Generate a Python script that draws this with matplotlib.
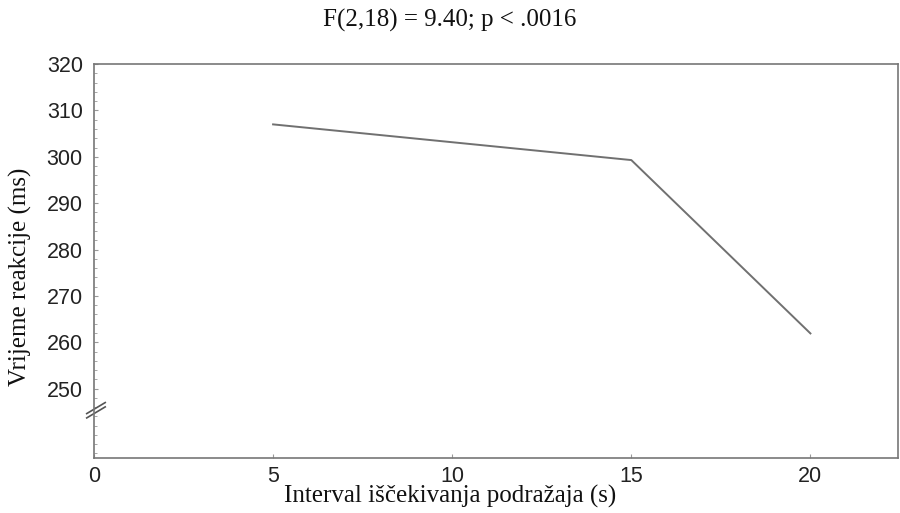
import matplotlib
matplotlib.use('Agg')
import matplotlib.pyplot as plt
from matplotlib.ticker import MultipleLocator

# values
interval = [5, 15, 20]
reaction_time = [307.0, 299.3, 261.9]
x_ticks = [0, 5, 10, 15, 20]
y_ticks = [250, 260, 270, 280, 290, 300, 310, 320]

fig = plt.figure(figsize=(9, 5.13), dpi=100)
ax = fig.add_axes([0.1044, 0.107, 0.8936, 0.768])

ax.plot(interval, reaction_time, color='#707070', linewidth=1.4)

ax.set_xlim(0, 22.45)
ax.set_ylim(235, 320)
ax.set_xticks(x_ticks)
ax.set_yticks(y_ticks)
ax.yaxis.set_minor_locator(MultipleLocator(2))
ax.tick_params(which='both', direction='in', color='#999999', labelsize=15.5)
ax.tick_params(axis='y', pad=8)
ax.tick_params(axis='x', pad=6)
ax.tick_params(which='major', length=3)
ax.tick_params(which='minor', length=2)
for lab in ax.get_xticklabels() + ax.get_yticklabels():
    lab.set_fontfamily('Liberation Sans')
    lab.set_color('#222222')
for sp in ax.spines.values():
    sp.set_color('#777777')
    sp.set_linewidth(1.2)

# axis break mark on the y axis
for dy in (0.0, -0.011):
    ax.plot([-0.009, 0.014], [0.113 + dy, 0.141 + dy], transform=ax.transAxes,
            color='#555555', linewidth=1.2, clip_on=False)

serif = 'Liberation Serif'
fig.text(0.5, 1 - 20 / 513, 'F(2,18) = 9.40; p < .0016', ha='center', va='center',
         fontsize=18, family=serif, color='#111111')
fig.text(20 / 900, 0.107 + 0.768 * (458 - 277) / 394, 'Vrijeme reakcije (ms)',
         rotation=90, ha='center', va='center', fontsize=18, family=serif, color='#111111')
fig.text(0.5, 1 - 503 / 513, 'Interval iščekivanja podražaja (s)', ha='center', va='baseline',
         fontsize=18, family=serif, color='#111111')

fig.savefig('out.png', dpi=100)
